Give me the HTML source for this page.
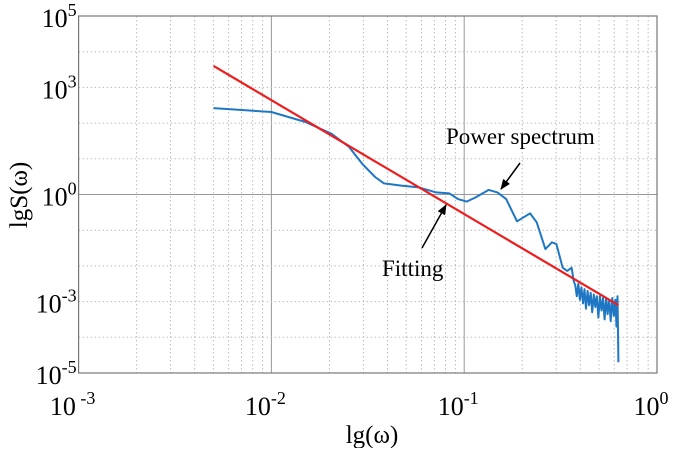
<!DOCTYPE html>
<html><head><meta charset="utf-8"><style>
html,body{margin:0;padding:0;background:#fff;}
svg text{font-family:"Liberation Serif",serif;fill:#000;}
</style></head><body>
<svg id="chart" width="685" height="448" viewBox="0 0 685 448" xmlns="http://www.w3.org/2000/svg">
<defs><marker id="ah" viewBox="0 0 10 10" refX="9" refY="5" markerWidth="7" markerHeight="7" orient="auto-start-reverse"><path d="M0,1 L10,5 L0,9 z" fill="#000"/></marker></defs>
<g id="grid"></g>
<g id="series"></g>
<rect x="78.6" y="16" width="578.4" height="357" fill="none" stroke="#777" stroke-width="1.2"/>
<g id="ticks"></g>
<text x="372" y="443" font-size="25" text-anchor="middle">lg(ω)</text>
<text transform="translate(27,195) rotate(-90)" font-size="25" text-anchor="middle">lgS(ω)</text>
<text x="446" y="144" font-size="23">Power spectrum</text>
<line x1="520" y1="163" x2="501" y2="189" stroke="#000" stroke-width="1.5" marker-end="url(#ah)"/>
<text x="382" y="276" font-size="23">Fitting</text>
<line x1="422" y1="248" x2="446" y2="205" stroke="#000" stroke-width="1.5" marker-end="url(#ah)"/>
</svg>
<script>
const xTickLogs=[-3,-2,-1,0];
const yTickLogs=[5,3,0,-3,-5];
const spectrumLogX=[-2.30,-2.0,-1.823,-1.688,-1.597,-1.529,-1.462,-1.416,-1.326,-1.235,-1.145,-1.077,-1.032,-0.987,-0.941,-0.873,-0.828,-0.782,-0.726,-0.692,-0.658,-0.624,-0.579,-0.545,-0.522,-0.489,-0.466,-0.443,-0.432,
-0.424,-0.416,-0.408,-0.400,-0.392,-0.384,-0.376,-0.368,-0.360,-0.352,-0.344,-0.336,-0.328,-0.320,-0.312,-0.304,-0.296,-0.288,-0.280,-0.272,-0.264,-0.256,-0.248,-0.240,-0.232,-0.224,-0.216,-0.210,-0.205,-0.202,-0.200];
const spectrumLogY=[2.42,2.31,2.03,1.70,1.33,0.86,0.49,0.31,0.25,0.20,0.06,0.03,-0.13,-0.20,-0.08,0.13,0.06,-0.13,-0.75,-0.64,-0.53,-0.78,-1.53,-1.34,-1.39,-2.05,-2.14,-2.05,-2.42,
-2.55,-2.85,-2.50,-2.95,-2.60,-3.05,-2.65,-3.20,-2.70,-3.10,-2.75,-3.30,-2.80,-3.15,-2.85,-3.45,-2.85,-3.25,-2.90,-3.50,-2.90,-3.35,-2.95,-3.55,-2.90,-3.40,-2.95,-3.70,-2.85,-4.00,-4.70];
const fitLogX=[-2.30,-0.20];
const fitLogY=[3.6,-3.1];
const L=78.6,R=657,T=16,B=373;
const sx=v=>L+(v+3)/3*(R-L);
const sy=v=>T+(5-v)/10*(B-T);
const NS="http://www.w3.org/2000/svg";
function mk(tag,attrs,parent){const e=document.createElementNS(NS,tag);for(const k in attrs)e.setAttribute(k,attrs[k]);parent.appendChild(e);return e;}
const grid=document.getElementById('grid');
for(let d=-3;d<0;d++){for(let m=2;m<=9;m++){const x=sx(d+Math.log10(m));
 const g=mk('line',{x1:x,x2:x,y1:T,y2:B,stroke:'#bbb','stroke-width':1,'stroke-dasharray':'1.5,2.5'},grid);
 
 }}
for(const d of [-2,-1]){const x=sx(d);const g=mk('line',{x1:x,x2:x,y1:T,y2:B,stroke:'#999','stroke-width':1},grid);
 
 }
for(let d=-4;d<=4;d++){const y=sy(d);const solid=d===0;
 const g=mk('line',{x1:L,x2:R,y1:y,y2:y,stroke:solid?'#999':'#bbb','stroke-width':1,'stroke-dasharray':solid?'none':'1.5,2.5'},grid);
 
 }
const ser=document.getElementById('series');
let d='';spectrumLogX.forEach((v,i)=>{d+=(i?'L':'M')+sx(v).toFixed(1)+','+sy(spectrumLogY[i]).toFixed(1);});
const p=mk('path',{d:d,fill:'none',stroke:'#1f77c4','stroke-width':2,'stroke-linejoin':'round'},ser);


const f=mk('line',{x1:sx(fitLogX[0]),y1:sy(fitLogY[0]),x2:sx(fitLogX[1]),y2:sy(fitLogY[1]),stroke:'#ee1c1c','stroke-width':2.2},ser);


const tk=document.getElementById('ticks');
function lab(x,y,exp,anchor,name){const t=mk('text',{x:x,y:y,'font-size':26,'text-anchor':anchor,fill:'#222'},tk);
 
 
 t.textContent='10';const s=document.createElementNS(NS,'tspan');s.setAttribute('dy','-11');s.setAttribute('font-size','18');s.textContent=exp;t.appendChild(s);}
xTickLogs.forEach(v=>lab(sx(v)-6,415,(v<0?(v===-3?' -3':String(v)):'0'),'middle','x-tick-label'));
yTickLogs.forEach(v=>lab(L-2,sy(v)+11,String(v),'end','y-tick-label'));
</script>
</body></html>
